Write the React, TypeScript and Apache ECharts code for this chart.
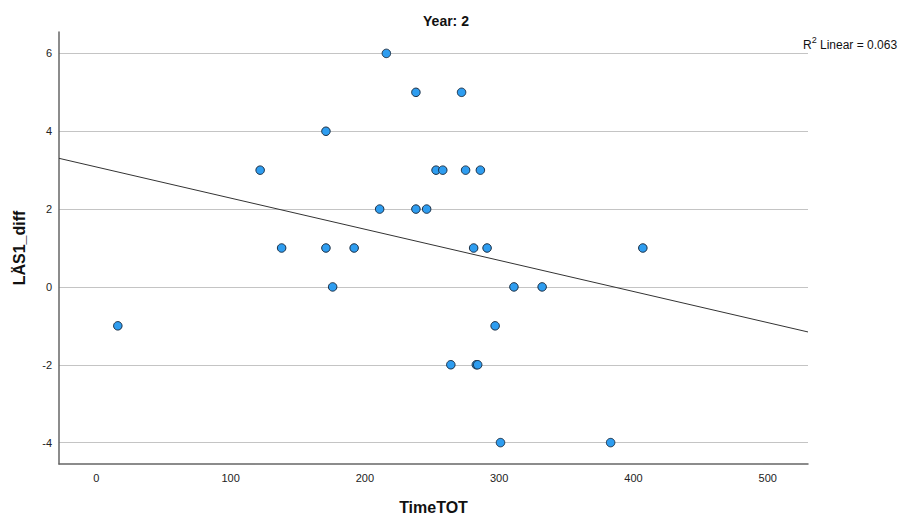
import React, { useEffect, useRef } from "react";
import * as echarts from "echarts";

const timeTot = [16, 122, 138, 171, 171, 176, 192, 211, 216, 238, 238, 246, 253, 258, 264, 272, 275, 281, 283, 284, 286, 291, 297, 301, 311, 332, 383, 407];
const las1Diff = [-1, 3, 1, 4, 1, 0, 1, 2, 6, 5, 2, 2, 3, 3, -2, 5, 3, 1, -2, -2, 3, 1, -1, -4, 0, 0, -4, 1];
const xTicks = [0, 100, 200, 300, 400, 500];
const yTicks = [-4, -2, 0, 2, 4, 6];
const titleText = "Year: 2";
const xName = "TimeTOT";
const yName = "LÄS1_diff";

const X_MIN = -27.8;
const X_MAX = 530;
const Y_MIN = -4.55;
const Y_MAX = 6.55;

function fit() {
  const n = timeTot.length;
  const mx = timeTot.reduce((a, b) => a + b, 0) / n;
  const my = las1Diff.reduce((a, b) => a + b, 0) / n;
  let sxy = 0, sxx = 0, syy = 0;
  for (let i = 0; i < n; i++) {
    const dx = timeTot[i] - mx;
    const dy = las1Diff[i] - my;
    sxy += dx * dy;
    sxx += dx * dx;
    syy += dy * dy;
  }
  const slope = sxy / sxx;
  const intercept = my - slope * mx;
  const r2 = (sxy * sxy) / (sxx * syy);
  return { slope, intercept, r2 };
}

export default function App() {
  const ref = useRef<HTMLDivElement>(null);
  useEffect(() => {
    if (!ref.current) return;
    const chart = echarts.init(ref.current, null, { renderer: "svg" });
    const { slope, intercept, r2 } = fit();
    const font = "'Liberation Sans', Arial, sans-serif";
    chart.setOption({
      animation: false,
      textStyle: { fontFamily: font },
      grid: { left: 59, top: 32, right: 94, bottom: 53, outerBoundsMode: "none", containLabel: false },
      xAxis: {
        type: "value",
        min: X_MIN,
        max: X_MAX,
        name: xName,
        nameLocation: "middle",
        nameGap: 35,
        nameTextStyle: { fontSize: 16, fontWeight: "bold", color: "#111", fontFamily: font },
        axisLine: { show: true, onZero: false, lineStyle: { color: "#666", width: 1.5 } },
        axisTick: { show: false, customValues: xTicks },
        axisLabel: { customValues: xTicks, fontSize: 11, color: "#222", margin: 8, fontFamily: font },
        splitLine: { show: false },
      },
      yAxis: {
        type: "value",
        min: Y_MIN,
        max: Y_MAX,
        name: yName,
        nameLocation: "middle",
        nameGap: 32,
        nameTextStyle: { fontSize: 16, fontWeight: "bold", color: "#111", fontFamily: font },
        axisLine: { show: true, onZero: false, lineStyle: { color: "#666", width: 1.5 } },
        axisTick: { show: false, customValues: yTicks },
        axisLabel: { customValues: yTicks, fontSize: 11, color: "#222", margin: 7, fontFamily: font },
        splitLine: { show: true, lineStyle: { color: "#c4c4c4", width: 1 } },
      },
      graphic: [
        {
          type: "text",
          x: 446,
          y: 21,
          style: {
            text: titleText,
            font: `bold 14px ${font}`,
            fill: "#111",
            textAlign: "center",
            textVerticalAlign: "middle",
          },
        },
        {
          type: "text",
          x: 803,
          y: 43,
          style: {
            text: `{a|R}{s|2}{a| Linear = ${r2.toFixed(3)}}`,
            textVerticalAlign: "middle",
            rich: {
              a: { fontSize: 12, fontFamily: font, fill: "#111", verticalAlign: "bottom" } as any,
              s: { fontSize: 9, fontFamily: font, fill: "#111", verticalAlign: "top", padding: [0, 0, 6, 0] } as any,
            },
          },
        },
      ],
      series: [
        {
          type: "line",
          data: [
            [X_MIN, intercept + slope * X_MIN],
            [X_MAX, intercept + slope * X_MAX],
          ],
          showSymbol: false,
          symbol: "none",
          lineStyle: { color: "#333", width: 1 },
          silent: true,
          z: 2,
        },
        {
          type: "scatter",
          data: timeTot.map((x, i) => [x, las1Diff[i]]),
          symbol: "circle",
          symbolSize: 8.5,
          itemStyle: { color: "#2e9df0", borderColor: "#1b2f45", borderWidth: 1, opacity: 1 },
          z: 3,
        },
      ],
    });
    return () => chart.dispose();
  }, []);
  return <div ref={ref} style={{ width: 902, height: 517, position: "absolute", left: 0, top: 0 }} />;
}
